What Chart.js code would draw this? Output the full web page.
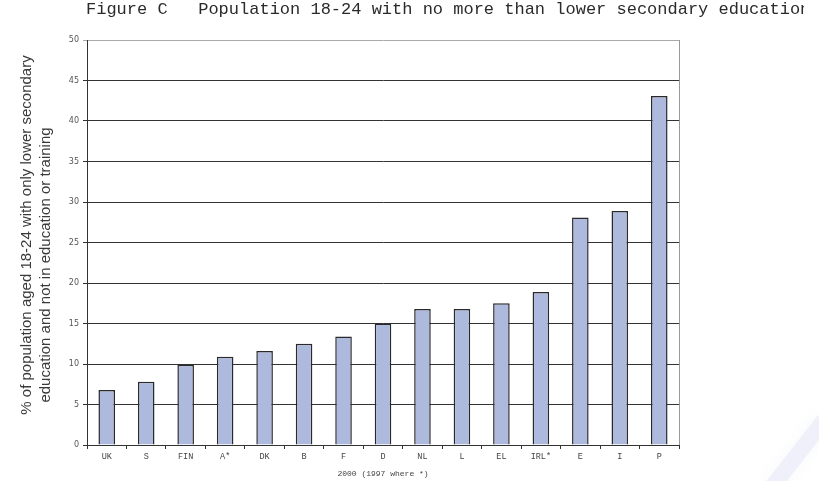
<!DOCTYPE html>
<html>
<head>
<meta charset="utf-8">
<script src="https://cdn.jsdelivr.net/npm/chart.js@4.4.1/dist/chart.umd.min.js"></script>
<style>
  html, body { margin: 0; padding: 0; background: #fff; }
  #wrap { position: relative; width: 819px; height: 481px; overflow: hidden; }
  #title {
    position: absolute; left: 86px; top: 0px; width: 718px; overflow: hidden;
    white-space: pre; font-family: "Liberation Mono", "Courier New", monospace;
    font-size: 17px; line-height: 20px; color: #2a2a2a;
  }
  canvas { position: absolute; left: 0; top: 0; }
</style>
</head>
<body>
<div id="wrap">
  <canvas id="c" width="819" height="481"></canvas>
  <div id="title">Figure C   Population 18-24 with no more than lower secondary education</div>
</div>
<script>
// Early school leavers by country, 2000 (1997 where marked *)
const countries = ["UK", "S", "FIN", "A*", "DK", "B", "F", "D", "NL", "L", "EL", "IRL*", "E", "I", "P"];
const shares = [6.8, 7.8, 9.9, 10.9, 11.6, 12.5, 13.4, 15.0, 16.8, 16.8, 17.5, 18.9, 28.1, 28.9, 43.1];
const yTitleLines = ["% of population aged 18-24 with only lower secondary", "education and not in education or training"];
const xTitle = "2000 (1997 where *)";

const decor = {
  id: "decor",
  beforeDraw(chart) {
    const ctx = chart.ctx;
    ctx.save();
    ctx.fillStyle = "#ffffff";
    ctx.fillRect(0, 0, chart.width, chart.height);
    // faint swoosh in the lower right corner
    ctx.strokeStyle = "rgba(222,224,242,0.4)";
    ctx.lineWidth = 16;
    ctx.shadowColor = "rgba(222,224,242,0.6)";
    ctx.shadowBlur = 16;
    ctx.beginPath();
    ctx.moveTo(768, 492);
    ctx.quadraticCurveTo(795, 458, 824, 420);
    ctx.stroke();
    ctx.restore();
  },
  afterDraw(chart) {
    const ctx = chart.ctx;
    const a = chart.chartArea;
    ctx.save();
    // right frame edge
    ctx.strokeStyle = "#999";
    ctx.lineWidth = 1;
    ctx.beginPath();
    ctx.moveTo(Math.round(a.right) + 0.5, a.top);
    ctx.lineTo(Math.round(a.right) + 0.5, a.bottom);
    ctx.stroke();
    // y axis title, two lines
    ctx.fillStyle = "#3a3a3a";
    ctx.font = "15px 'Liberation Sans', Arial, sans-serif";
    ctx.textAlign = "center";
    ctx.textBaseline = "middle";
    ctx.rotate(-Math.PI / 2);
    ctx.fillText(yTitleLines[0], -235, 27);
    ctx.fillText(yTitleLines[1], -265, 46);
    ctx.restore();
    // x axis title
    ctx.save();
    ctx.fillStyle = "#444";
    ctx.font = "8px 'Liberation Mono', 'Courier New', monospace";
    ctx.textAlign = "center";
    ctx.textBaseline = "middle";
    ctx.fillText(xTitle, (a.left + a.right) / 2, 474);
    ctx.restore();
  }
};

new Chart(document.getElementById("c"), {
  type: "bar",
  data: {
    labels: countries,
    datasets: [{
      data: shares,
      backgroundColor: "#adbade",
      borderColor: "#2a2a2a",
      borderWidth: 1.5,
      categoryPercentage: 1,
      barPercentage: 0.42
    }]
  },
  options: {
    responsive: false,
    devicePixelRatio: 1,
    animation: false,
    layout: { padding: { left: 0, top: 40, right: 140, bottom: 0 } },
    plugins: { legend: { display: false }, tooltip: { enabled: false }, title: { display: false } },
    scales: {
      x: {
        afterFit(s) { s.height = 36; },
        grid: { display: true, drawOnChartArea: false, drawTicks: true, tickLength: 4, color: "#333", offset: true },
        border: { display: true, color: "#333", width: 1 },
        ticks: {
          padding: 3, color: "#444", maxRotation: 0, autoSkip: false,
          font: { family: "'Liberation Mono', 'Courier New', monospace", size: 8.5 }
        }
      },
      y: {
        min: 0, max: 50,
        afterFit(s) { s.width = 87; },
        grid: {
          color: (c) => (c.tick && c.tick.value === 50 ? "#aaa" : "#333"),
          tickLength: 4, drawTicks: true
        },
        border: { display: true, color: "#333", width: 1 },
        ticks: {
          stepSize: 5, padding: 4, color: "#555",
          font: { family: "'DejaVu Sans', Verdana, sans-serif", size: 8 }
        }
      }
    }
  },
  plugins: [decor]
});
</script>
</body>
</html>
